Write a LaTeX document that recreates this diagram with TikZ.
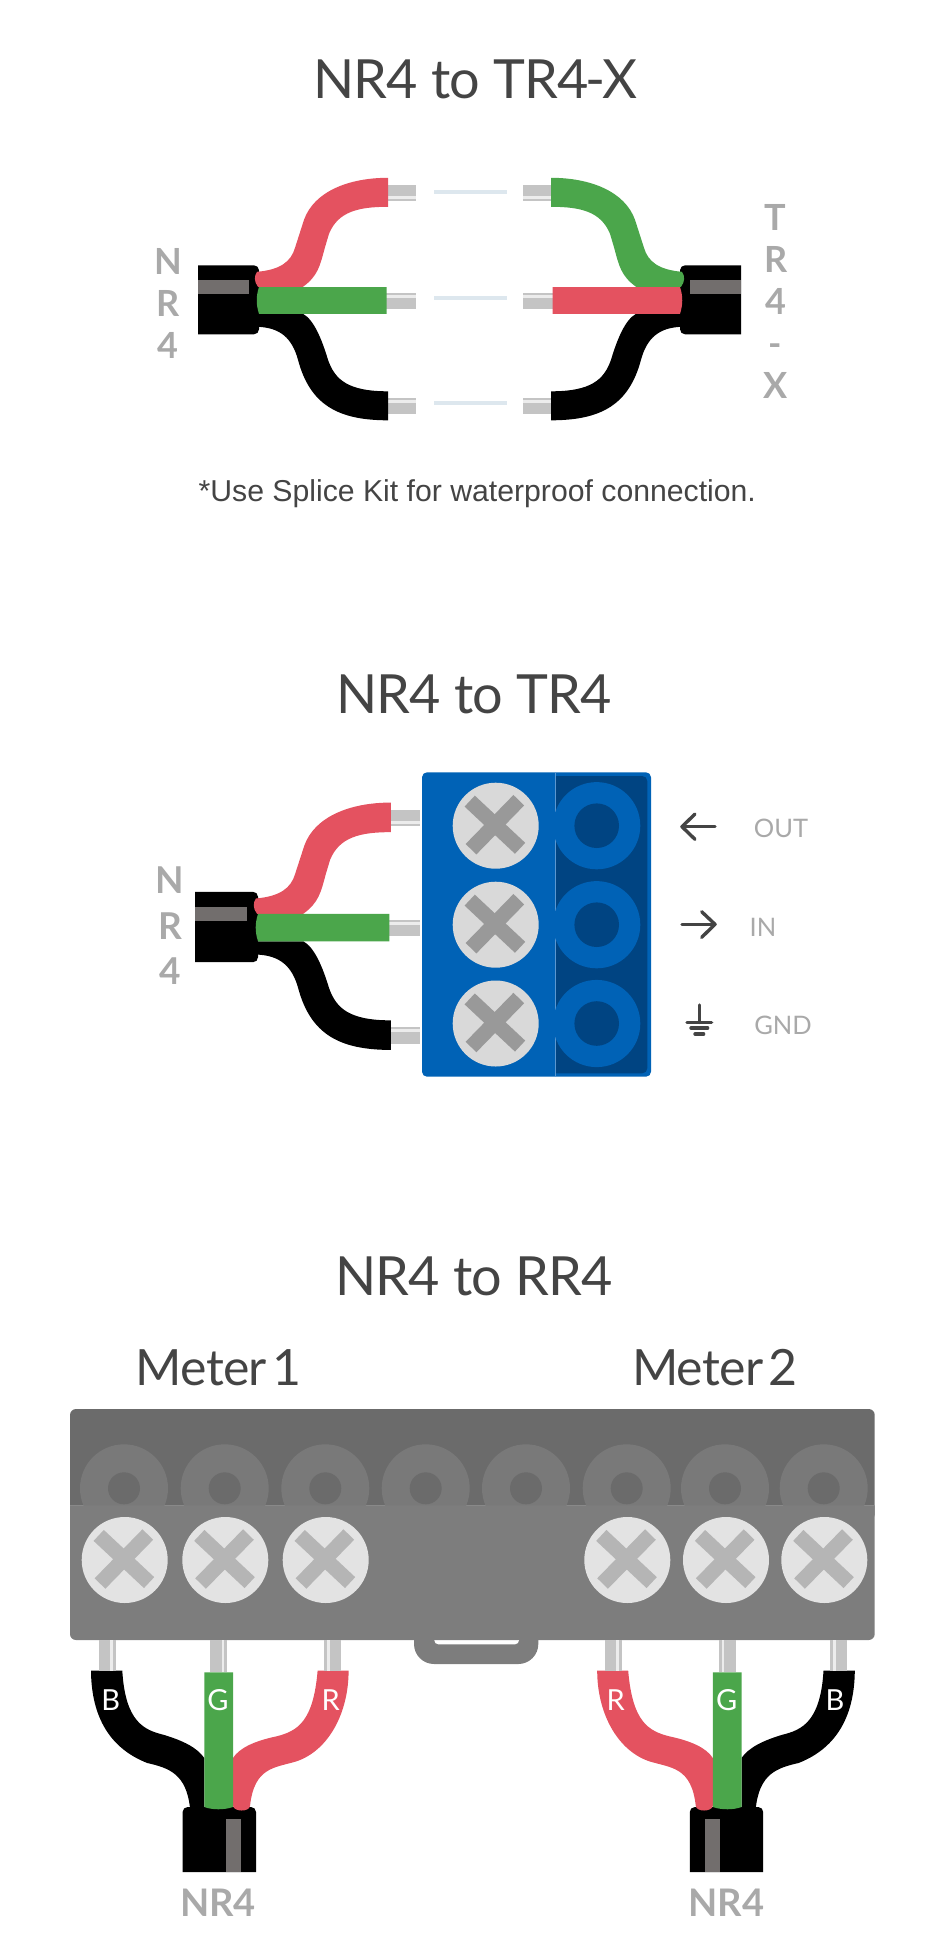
\documentclass[tikz,border=0pt]{standalone}
\usepackage{fontspec}
\setmainfont{Lato}
\newfontfamily\arialfont{Liberation Sans}
\newfontfamily\titlefont[LetterSpace=-1.5]{Lato}
\usetikzlibrary{calc}
\definecolor{wred}{HTML}{E45260}
\definecolor{wgreen}{HTML}{4BA64B}
\definecolor{jstripe}{HTML}{726E6D}
\definecolor{pingray}{HTML}{C4C4C4}
\definecolor{pinlight}{HTML}{ECECEC}
\definecolor{titlegray}{HTML}{444444}
\definecolor{labelgray}{HTML}{A9A9A9}
\definecolor{tblue}{HTML}{0062B6}
\definecolor{tdark}{HTML}{004482}
\definecolor{tline}{HTML}{5A97D0}
\definecolor{splicecol}{HTML}{DDE7EE}
\definecolor{blockup}{HTML}{6B6B6B}
\definecolor{blocklow}{HTML}{7D7D7D}
\definecolor{blockring}{HTML}{797979}
\definecolor{blockline}{HTML}{A0A0A0}
\tikzstyle{title} = [anchor=base, text=titlegray, font=\titlefont\fontsize{54}{60}\selectfont]
\tikzstyle{meter} = [anchor=base, text=titlegray, font=\titlefont\fontsize{50}{60}\selectfont]
\tikzstyle{stack} = [align=center, text=labelgray, font=\fontsize{36}{42}\selectfont\bfseries]
\tikzstyle{stackb} = [align=center, text=labelgray, font=\fontsize{37}{45.5}\selectfont\bfseries]
\tikzstyle{cablename} = [anchor=base, text=labelgray, font=\fontsize{38}{44}\selectfont\bfseries]
\tikzstyle{pinname} = [anchor=base, text=labelgray, font=\fontsize{25.5}{30}\selectfont]
\tikzstyle{wirename} = [anchor=base, text=white, font=\fontsize{29}{34}\selectfont]
\tikzstyle{note} = [anchor=base, text=titlegray, font=\arialfont\fontsize{30.2}{34}\selectfont]
\tikzstyle{icon} = [draw=titlegray, line width=3.4pt, line cap=round, line join=round]
\tikzstyle{splice} = [draw=splicecol, line width=4pt]
\tikzset{
	pics/fan/.style n args={2}{code={
		\fill[black] (0,-34.5) [rounded corners=5pt] -- (61,-34.5) -- (61,34.5) [sharp corners] -- (0,34.5) -- cycle;
		\fill[jstripe] (0,-19.8) rectangle (50.7,-5.8);
		% pins
		\fill[pingray] (190,-114.5) rectangle (218.3,-99);
		\fill[pinlight] (190,-103.8) rectangle (218.3,-101.2);
		\fill[pingray] (188,-6.5) rectangle (218.3,9);
		\fill[pinlight] (188,-4.8) rectangle (218.3,-2.2);
		\fill[pingray] (190,98.5) rectangle (218.3,114.5);
		\fill[pinlight] (190,100.2) rectangle (218.3,102.8);
		% bottom wire
		\fill[black] (60,14) -- (105,14) .. controls (116,20) and (124,40) .. (130,60)
			.. controls (137,80) and (150,91.5) .. (190,91.5) -- (190,120.5)
			.. controls (140,120.5) and (112,105) .. (100,60)
			.. controls (94,38) and (82,28) .. (60,27) -- cycle;
		% top wire
		\fill[#1] (59,-28) .. controls (82,-30) and (93,-38) .. (97,-52)
			-- (106,-80) .. controls (116,-108) and (150,-122) .. (190,-122) -- (190,-93)
			.. controls (160,-93) and (140,-88) .. (131,-66) -- (126.7,-51.5)
			.. controls (122,-34) and (120,-24) .. (105,-13) -- (60,-13)
			.. controls (56,-18) and (56,-24) .. (59,-28) -- cycle;
		% middle wire
		\fill[#2] (61,-12.8) -- (188.5,-12.8) -- (188.5,14) -- (61,14)
			.. controls (58,5) and (58,-4) .. (61,-12.8) -- cycle;
	}},
	pics/upcable/.style n args={2}{code={
		\fill[black] (-36.7,0) [rounded corners=5pt] -- (-36.7,-65) -- (36.7,-65) [sharp corners] -- (36.7,0) -- cycle;
		\fill[jstripe] (6.3,-53.3) rectangle (21.7,0);
		% far wire
		\fill[#1] (-128.3,-201.3) .. controls (-128,-160) and (-113,-125) .. (-72,-109)
			.. controls (-50,-104) and (-33,-98) .. (-29.3,-64) -- (-15,-64) -- (-15,-114)
			.. controls (-22,-124) and (-35,-131) .. (-56,-137.3)
			.. controls (-75,-142) and (-94,-150) .. (-97,-201.3) -- cycle;
		% near wire
		\fill[#2] (98.3,-201.3) -- (129.3,-201.3) .. controls (129.3,-160) and (110,-122) .. (77.3,-110.7)
			.. controls (55,-104) and (35,-105) .. (30.7,-66)
			.. controls (30,-60) and (15,-60) .. (13.7,-66) -- (13.7,-114)
			.. controls (20,-124) and (35,-131) .. (57.3,-135.7)
			.. controls (78,-141) and (94,-150) .. (98.3,-201.3) -- cycle;
		% middle wire
		\fill[wgreen] (-15,-199.7) -- (13.7,-199.7) -- (13.7,-65) .. controls (5,-62) and (-7,-62) .. (-15,-65) -- cycle;
		% pins
		\fill[pingray] (-120.6,-232) rectangle (-103.6,-201.3);
		\fill[pinlight] (-109.3,-232) rectangle (-106.6,-201.3);
		\fill[pingray] (-9.3,-232) rectangle (7.4,-199.7);
		\fill[pinlight] (2.3,-232) rectangle (5,-199.7);
		\fill[pingray] (105,-232) rectangle (121.7,-201.3);
		\fill[pinlight] (107.5,-232) rectangle (110.2,-201.3);
	}},
	pics/xscrew/.style n args={2}{code={
		\fill[#1] (0,0) circle (43);
		\draw[#2, line width=15pt] (-26,-24.6) -- (24.4,22.6);
		\draw[#2, line width=15pt] (23.1,-25.5) -- (-24.7,23.5);
	}}
}

\begin{document}
\begin{tikzpicture}[x=1pt, y=-1pt]
	\useasboundingbox (0,0) rectangle (944,1952);
	% NR4 to TR4-X
	\node (T1) [title] at (475.5,98.7) {NR4 to TR4\kern-3pt-\kern-3pt X};
	\node (L1) [stack] at (168,303) {N\\R\\4};
	\node (R1) [stack] at (775.7,301) {T\\R\\4\\-\\X};
	\pic at (198,299.8) {fan={wred}{wgreen}};
	\pic [xscale=-1] at (741,299.8) {fan={wgreen}{wred}};
	\foreach \y in {192,298.3,403}
		\draw[splice] (434,\y) -- (507,\y);
	\node (N1) [note] at (477.3,501) {*Use Splice Kit for waterproof connection.};
	% NR4 to TR4
	\node (T2) [title] at (474,713) {NR4 to TR4};
	\node (L2) [stackb] at (170,926) {N\\R\\4};
	\pic [xscale=1.03, yscale=1.02] at (195.2,927) {fan={wred}{wgreen}};
	\fill[tblue, rounded corners=5pt] (422,772.3) rectangle (651,1076.7);
	\fill[tdark] (555.3,776) [rounded corners=5pt] -- (647.3,776) -- (647.3,1073.3) [sharp corners] -- (555.3,1073.3) -- cycle;
	\draw[tline, line width=0.8pt] (555.3,772.3) -- (555.3,1076.7);
	\foreach \y in {825.7,924.7,1023.5} {
		\fill[tblue] (596.7,\y) circle (43.6);
		\fill[tdark] (596.7,\y) circle (22.3);
		\pic at (495.7,\y) {xscrew={black!15}{black!40}};
	}
	\draw[icon] (715,826.7) -- (682,826.7);
	\draw[icon] (695,814) -- (682,826.7) -- (695,839.3);
	\draw[icon] (682,924.3) -- (715,924.3);
	\draw[icon] (701.7,911.7) -- (715,924.3) -- (701.7,937.3);
	\draw[icon] (699.3,1005) -- (699.3,1022.3);
	\draw[icon] (687,1022.3) -- (711.6,1022.3);
	\draw[icon] (691,1028) -- (707.6,1028);
	\draw[icon] (695,1034) -- (703.6,1034);
	\node (P1) [pinname] at (781,837.7) {OUT};
	\node (P2) [pinname] at (763,936) {IN};
	\node (P3) [pinname] at (783,1034) {GND};
	% NR4 to RR4
	\node (T3) [title] at (474,1295) {NR4 to RR4};
	\node (M1) [meter] at (218.5,1385) {Meter\hspace{-7pt} 1};
	\node (M2) [meter] at (714.7,1385) {Meter\hspace{-7pt} 2};
	\fill[blocklow] (414,1640) [rounded corners=20pt] -- (414,1664) -- (538.3,1664) [sharp corners] -- (538.3,1640) -- cycle;
	\fill[white] (434.3,1640) [rounded corners=4pt] -- (434.3,1644.3) -- (519,1644.3) [sharp corners] -- (519,1640) -- cycle;
	\fill[blockup, rounded corners=6pt] (70,1409) rectangle (874.7,1520);
	\draw[blockline, line width=0.8pt] (70,1505) -- (874.7,1505);
	\foreach \x in {124,224.7,325.3,425.7,526,626.7,725,823.7} {
		\fill[blockring] (\x,1488.3) circle (44);
		\fill[blockup] (\x,1488.3) circle (16);
	}
	\fill[blocklow] (70,1505.4) [rounded corners=6pt] -- (70,1640) -- (874.7,1640) [sharp corners] -- (874.7,1505.4) -- cycle;
	\foreach \x in {124.7,225.3,325.7,627.3,726,824.3}
		\pic at (\x,1560) {xscrew={black!11}{black!29}};
	\pic at (219.3,1872) {upcable={black}{wred}};
	\pic [xscale=-1] at (726.5,1872) {upcable={black}{wred}};
	\node (B1) [wirename] at (110.7,1710) {B};
	\node (G1) [wirename] at (218,1710) {G};
	\node (R3) [wirename] at (330.7,1710) {R};
	\node (R4) [wirename] at (615.7,1710) {R};
	\node (G2) [wirename] at (726.7,1710) {G};
	\node (B2) [wirename] at (835,1710) {B};
	\node (C1) [cablename] at (218,1916.7) {NR4};
	\node (C2) [cablename] at (726.5,1916.7) {NR4};
\end{tikzpicture}
\end{document}
